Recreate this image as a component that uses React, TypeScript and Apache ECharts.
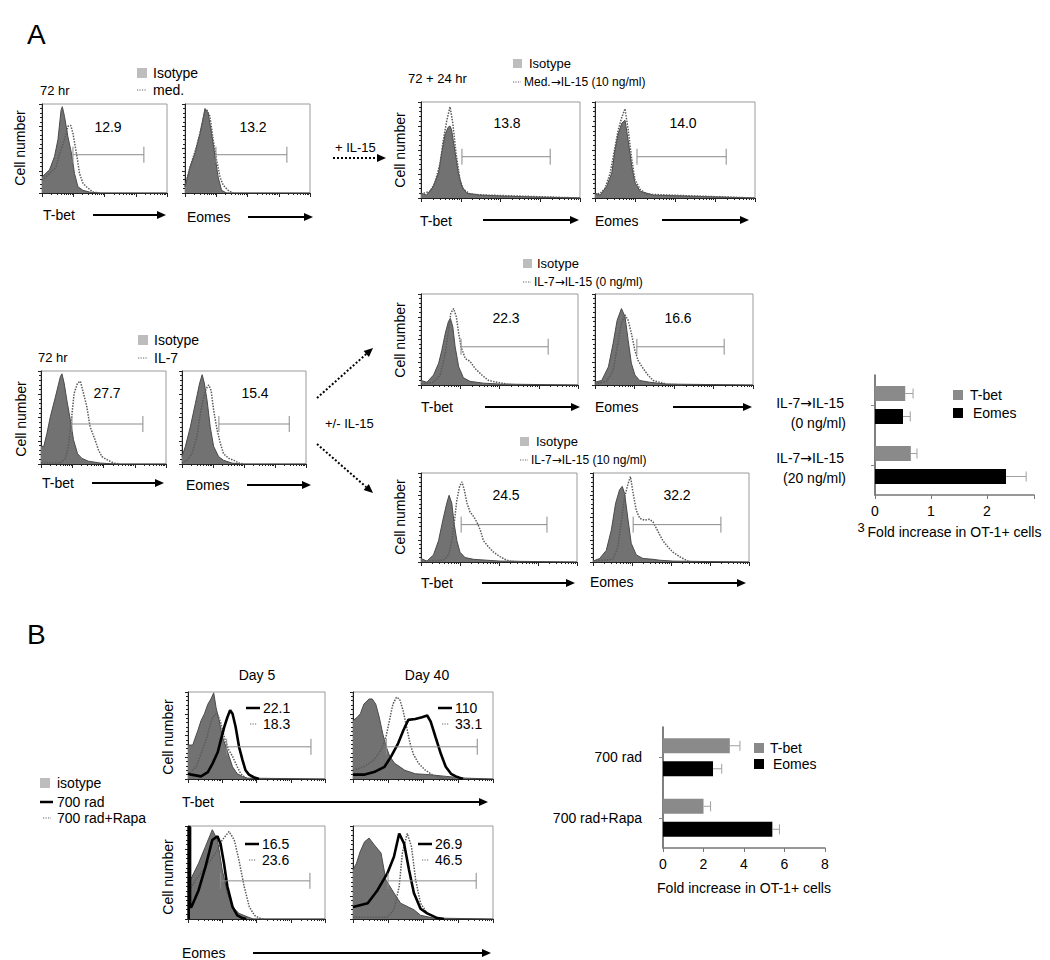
import React, { useEffect, useRef } from 'react';
import * as echarts from 'echarts';

const FONT = '"Liberation Sans", Arial, Helvetica, sans-serif';
const ARROW_FONT = '"DejaVu Sans", sans-serif';

// ---------- flow histograms: x = log decade of fluorescence (0–4), y = % of max cell count ----------
// A, 72 hr, medium
const a72TbetIso = [[0,18],[0.24,26],[0.40,41],[0.51,60],[0.61,93],[0.65,97],[0.72,86],[0.83,63],[0.94,45],[1.04,22],[1.15,7],[1.31,3],[1.53,1],[1.85,0],[4,0]];
const a72TbetMed = [[0,14],[0.24,22],[0.45,29],[0.56,44],[0.72,60],[0.83,75],[0.92,76],[0.99,67],[1.12,41],[1.20,22],[1.31,11],[1.42,7],[1.53,4],[1.63,1],[1.85,0]];
const a72EomesIso = [[0,7],[0.16,29],[0.32,45],[0.48,67],[0.59,86],[0.64,95],[0.74,90],[0.85,67],[0.96,41],[1.06,18],[1.17,3],[1.33,0],[4,0]];
const a72EomesMed = [[0,7],[0.16,29],[0.37,52],[0.53,75],[0.64,92],[0.69,94],[0.80,86],[0.90,60],[1.01,37],[1.12,18],[1.22,9],[1.38,3],[1.54,0]];
// A, 72 + 24 hr, Med. -> IL-15 (10 ng/ml)
const a96TbetIso = [[0,5],[0.14,3],[0.31,12],[0.44,26],[0.52,47],[0.61,67],[0.69,74],[0.73,75],[0.77,71],[0.86,47],[0.94,26],[1.03,12],[1.15,5],[1.49,3],[2.08,2],[2.92,1],[4,0]];
const a96TbetIL15 = [[0,4],[0.23,7],[0.35,16],[0.48,36],[0.56,60],[0.65,81],[0.73,95],[0.80,78],[0.88,47],[0.98,19],[1.07,9],[1.24,4],[1.66,3],[2.5,2],[4,0]];
const a96EomesIso = [[0,5],[0.13,3],[0.29,12],[0.42,26],[0.5,50],[0.58,67],[0.67,78],[0.75,81],[0.83,60],[0.92,33],[1.0,16],[1.13,7],[1.46,3],[2.29,2],[4,0]];
const a96EomesIL15 = [[0,4],[0.13,5],[0.25,10],[0.38,26],[0.5,53],[0.58,71],[0.67,84],[0.75,93],[0.83,71],[0.92,40],[1.0,19],[1.13,9],[1.29,4],[1.88,3],[4,0]];
// A, 72 hr, IL-7
const b72TbetIso = [[0,19],[0.09,19],[0.19,33],[0.30,51],[0.46,72],[0.62,94],[0.67,97],[0.74,87],[0.83,68],[0.94,47],[1.04,26],[1.17,11],[1.31,6],[1.52,3],[1.89,1],[2.4,0],[4,0]];
const b72TbetIL7 = [[0,1],[0.62,1],[0.78,6],[0.88,19],[0.97,47],[1.06,76],[1.17,87],[1.26,89],[1.36,76],[1.47,61],[1.57,40],[1.73,26],[1.84,15],[1.95,8],[2.09,5],[2.21,3],[2.32,1],[2.53,0]];
const b72EomesIso = [[0,8],[0.11,19],[0.27,40],[0.43,65],[0.57,87],[0.65,96],[0.72,87],[0.81,68],[0.91,40],[1.02,19],[1.18,8],[1.34,4],[1.61,1],[1.88,0],[4,0]];
const b72EomesIL7 = [[0,1],[0.16,4],[0.32,11],[0.48,29],[0.59,54],[0.70,72],[0.78,81],[0.86,85],[0.94,79],[1.02,58],[1.13,37],[1.24,22],[1.34,11],[1.51,6],[1.67,4],[1.83,1],[1.99,0]];
// A, IL-7 -> IL-15 (0 ng/ml)
const c0TbetIso = [[0,5],[0.15,3],[0.32,11],[0.45,24],[0.53,38],[0.62,57],[0.70,70],[0.75,73],[0.81,64],[0.87,42],[0.96,20],[1.08,8],[1.25,4],[1.59,2],[2.02,1],[4,0]];
const c0TbetIL15 = [[0,1],[0.32,3],[0.49,11],[0.62,35],[0.70,60],[0.76,79],[0.83,84],[0.90,75],[0.96,57],[1.02,42],[1.13,29],[1.25,26],[1.38,18],[1.55,11],[1.72,5],[1.93,3],[2.19,1],[2.44,0]];
const c0EomesIso = [[0,3],[0.17,5],[0.34,20],[0.46,46],[0.56,71],[0.67,84],[0.76,75],[0.84,49],[0.92,24],[1.01,11],[1.13,5],[1.39,3],[1.81,1],[4,0]];
const c0EomesIL15 = [[0,1],[0.29,4],[0.46,16],[0.59,49],[0.67,68],[0.76,77],[0.84,71],[0.92,57],[1.01,38],[1.09,27],[1.22,18],[1.34,11],[1.47,5],[1.64,3],[1.81,1],[2.23,0]];
// A, IL-7 -> IL-15 (10 ng/ml)
const c10TbetIso = [[0,4],[0.15,1],[0.32,8],[0.45,24],[0.56,47],[0.66,66],[0.72,75],[0.79,66],[0.85,43],[0.92,24],[1.0,11],[1.13,5],[1.35,3],[1.69,2],[2.03,1],[4,0]];
const c10TbetIL15 = [[0,1],[0.58,2],[0.71,8],[0.79,24],[0.86,47],[0.92,70],[0.99,85],[1.05,90],[1.11,81],[1.18,66],[1.26,56],[1.35,51],[1.43,45],[1.52,36],[1.60,24],[1.73,17],[1.86,11],[2.03,6],[2.15,3],[2.28,1],[2.54,0]];
const c10EomesIso = [[0,1],[0.17,4],[0.34,13],[0.47,36],[0.58,66],[0.68,81],[0.75,85],[0.81,77],[0.90,47],[0.98,21],[1.11,8],[1.28,4],[1.54,3],[1.71,2],[2.05,1],[4,0]];
const c10EomesIL15 = [[0,1],[0.51,3],[0.64,17],[0.73,47],[0.81,73],[0.90,88],[0.96,96],[1.03,77],[1.11,58],[1.20,49],[1.33,47],[1.45,48],[1.54,45],[1.67,34],[1.79,24],[1.92,17],[2.05,11],[2.22,6],[2.35,3],[2.44,1],[2.56,0]];
// B, T-bet
const d5TbetIso = [[0,39],[0.14,39],[0.19,45],[0.29,56],[0.38,67],[0.48,75],[0.58,86],[0.67,92],[0.75,99],[0.82,82],[0.91,67],[1.01,48],[1.11,37],[1.20,26],[1.30,14],[1.44,6],[1.59,3],[1.73,1],[4,0]];
const d5TbetRapa = [[0,5],[0.24,14],[0.38,29],[0.53,45],[0.63,60],[0.72,71],[0.82,75],[0.88,73],[0.96,64],[1.06,48],[1.17,35],[1.30,26],[1.44,14],[1.54,6],[1.63,3],[1.73,0]];
const d5Tbet700 = [[0,6],[0.10,5],[0.38,3],[0.58,8],[0.72,18],[0.87,31],[0.96,45],[1.06,60],[1.15,71],[1.23,79],[1.30,75],[1.39,60],[1.49,37],[1.59,22],[1.68,10],[1.78,5],[1.92,2],[2.07,0]];
const d40TbetIso = [[0,67],[0.12,71],[0.21,75],[0.31,86],[0.46,92],[0.55,92],[0.65,86],[0.75,71],[0.85,52],[0.95,37],[1.05,26],[1.19,18],[1.34,14],[1.48,10],[1.78,6],[2.17,5],[2.66,3],[3.22,1],[4,0]];
const d40TbetRapa = [[0,10],[0.31,14],[0.60,22],[0.80,33],[0.94,48],[1.04,67],[1.14,86],[1.24,94],[1.33,92],[1.43,79],[1.53,60],[1.63,41],[1.72,29],[1.87,18],[2.07,10],[2.26,5],[2.46,2],[2.65,0]];
const d40Tbet700 = [[0,5],[0.31,5],[0.60,8],[0.90,14],[1.09,26],[1.29,41],[1.44,56],[1.58,68],[1.78,69],[1.97,71],[2.12,73],[2.22,66],[2.36,48],[2.51,29],[2.65,14],[2.80,6],[2.94,3],[3.14,0]];
// B, Eomes
const d5EomesIso = [[0,42],[0.07,42],[0.31,60],[0.51,78],[0.71,96],[0.86,85],[1.0,53],[1.15,28],[1.30,13],[1.49,6],[1.69,3],[1.9,0],[4,0]];
const d5EomesRapa = [[0,28],[0.22,42],[0.51,56],[0.81,71],[1.0,85],[1.2,94],[1.35,85],[1.49,63],[1.64,35],[1.79,13],[1.94,4],[2.08,1],[2.2,0]];
const d5Eomes700 = [[0.02,0],[0.02,99],[0.06,99],[0.06,13],[0.1,13],[0.31,31],[0.51,56],[0.71,85],[0.86,89],[0.95,81],[1.05,60],[1.15,35],[1.30,13],[1.44,4],[1.59,1],[1.7,0]];
const d40EomesIso = [[0,53],[0.1,60],[0.2,72],[0.33,83],[0.46,87],[0.6,80],[0.8,71],[0.94,42],[1.17,28],[1.36,17],[1.74,10],[1.93,4],[2.3,1],[4,0]];
const d40EomesRapa = [[0,2],[0.98,2],[1.17,10],[1.32,35],[1.41,71],[1.55,92],[1.67,78],[1.79,42],[1.93,17],[2.12,6],[2.41,1],[2.6,0]];
const d40Eomes700 = [[0,13],[0.42,17],[0.70,31],[0.98,49],[1.17,67],[1.32,92],[1.46,81],[1.60,53],[1.74,28],[1.93,11],[2.12,6],[2.41,1],[2.6,0]];

// gates: [start decade, end decade, height %]
const gates = [
  [0.99, 3.26, 43], [0.99, 3.26, 43], [1.03, 3.25, 43], [1.05, 3.28, 43],
  [0.99, 3.26, 43], [1.19, 3.46, 43], [1.02, 3.24, 42], [1.06, 3.27, 42],
  [1.03, 3.23, 42], [1.03, 3.28, 42],
  [1.13, 3.59, 37], [0.95, 3.55, 37], [0.95, 3.56, 41], [1.0, 3.52, 41],
];
const gatePercents = ['12.9', '13.2', '13.8', '14.0', '27.7', '15.4', '22.3', '16.6', '24.5', '32.2'];
const bSolidPercents = ['22.1', '110', '16.5', '26.9'];
const bDottedPercents = ['18.3', '33.1', '23.6', '46.5'];

// bar charts
const barACategories = ['IL-7→IL-15\n(0 ng/ml)', 'IL-7→IL-15\n(20 ng/ml)'];
const barATbet = [0.54, 0.64];
const barATbetErr = [0.68, 0.75];
const barAEomes = [0.50, 2.34];
const barAEomesErr = [0.63, 2.70];
const barATicks = [0, 1, 2];

const barBCategories = ['700 rad', '700 rad+Rapa'];
const barBTbet = [3.3, 2.0];
const barBTbetErr = [3.8, 2.35];
const barBEomes = [2.47, 5.4];
const barBEomesErr = [2.9, 5.75];

// log sub-decade tick offsets (log10 of 2..9)
const LOG_SUB = [0.301, 0.477, 0.602, 0.699, 0.778, 0.845, 0.903, 0.954];

const HIST = [
  { box: [42, 104, 125, 89], iso: a72TbetIso, dot: a72TbetMed, solid: null },
  { box: [185, 104, 125, 89], iso: a72EomesIso, dot: a72EomesMed, solid: null },
  { box: [421, 102, 159, 96], iso: a96TbetIso, dot: a96TbetIL15, solid: null },
  { box: [595, 102, 160, 96], iso: a96EomesIso, dot: a96EomesIL15, solid: null },
  { box: [41, 371, 125, 93], iso: b72TbetIso, dot: b72TbetIL7, solid: null },
  { box: [182, 371, 124, 93], iso: b72EomesIso, dot: b72EomesIL7, solid: null },
  { box: [421, 294, 157, 91], iso: c0TbetIso, dot: c0TbetIL15, solid: null },
  { box: [595, 294, 158, 91], iso: c0EomesIso, dot: c0EomesIL15, solid: null },
  { box: [421, 473, 156, 89], iso: c10TbetIso, dot: c10TbetIL15, solid: null },
  { box: [593, 473, 156, 89], iso: c10EomesIso, dot: c10EomesIL15, solid: null },
  { box: [188, 692, 137, 87], iso: d5TbetIso, dot: d5TbetRapa, solid: d5Tbet700 },
  { box: [353, 692, 140, 87], iso: d40TbetIso, dot: d40TbetRapa, solid: d40Tbet700 },
  { box: [188, 826, 137, 93], iso: d5EomesIso, dot: d5EomesRapa, solid: d5Eomes700 },
  { box: [353, 826, 140, 93], iso: d40EomesIso, dot: d40EomesRapa, solid: d40Eomes700 },
];

const f = (s: number) => `${s}px ${FONT}`;

// text with "→" drawn in a font whose arrow glyph is full-width
function txt(text: string, x: number, y: number, size = 13, align = 'left', rot = 0, fill = '#000') {
  const rich = text.includes('→');
  const t = rich ? text.split('→').map((s) => `{n|${s}}`).join('{a|→}') : text;
  const style: any = { text: t, font: f(size), fill, textAlign: align, textVerticalAlign: 'middle', align, verticalAlign: 'middle' };
  if (rich) {
    style.rich = {
      n: { font: f(size), fill },
      a: { font: `${size}px ${ARROW_FONT}`, fill },
    };
  }
  return { type: 'text', x, y, rotation: rot, silent: true, z: 100, style };
}
function seg(x1: number, y1: number, x2: number, y2: number, stroke = '#000', lineWidth = 1, dash?: number[]) {
  const style: any = { stroke, lineWidth };
  if (dash) style.lineDash = dash;
  return { type: 'line', silent: true, z: 100, shape: { x1, y1, x2, y2 }, style };
}
function box(x: number, y: number, w: number, h: number, fill: string) {
  return { type: 'rect', silent: true, z: 100, shape: { x, y, width: w, height: h }, style: { fill } };
}
function arrow(x1: number, y1: number, x2: number, y2: number, dashed = false) {
  const dx = x2 - x1, dy = y2 - y1, L = Math.hypot(dx, dy);
  const ux = dx / L, uy = dy / L, hl = 9, hw = 4;
  const bx = x2 - ux * hl, by = y2 - uy * hl;
  return [
    seg(x1, y1, bx, by, '#000', 2, dashed ? [2, 2] : undefined),
    {
      type: 'polygon', silent: true, z: 100,
      shape: { points: [[x2, y2], [bx - uy * hw, by + ux * hw], [bx + uy * hw, by - ux * hw]] },
      style: { fill: '#000' },
    },
  ];
}
const dots = (x1: number, x2: number, y: number) => seg(x1, y, x2, y, '#666', 1.2, [1.2, 1.3]);

function buildOption() {
  const grid: any[] = [];
  const xAxis: any[] = [];
  const yAxis: any[] = [];
  const series: any[] = [];
  const minorVals: number[] = [];
  [0, 1, 2, 3].forEach((d) => LOG_SUB.forEach((s) => minorVals.push(d + s)));

  HIST.forEach((p, i) => {
    const [l, t, w, h] = p.box;
    grid.push({ left: l, top: t, width: w, height: h, show: true, borderColor: '#9a9a9a', borderWidth: 1, backgroundColor: '#fff' });
    xAxis.push({
      gridIndex: i, type: 'value', min: 0, max: 4, interval: 1, position: 'bottom',
      axisLine: { show: true, lineStyle: { color: '#222', width: 1 } },
      axisTick: { show: true, length: 4, lineStyle: { color: '#222' } },
      axisLabel: { show: false }, splitLine: { show: false },
    });
    xAxis.push({
      gridIndex: i, type: 'value', min: 0, max: 4, position: 'bottom',
      axisLine: { show: false },
      axisTick: { show: true, length: 2, customValues: minorVals, lineStyle: { color: '#222' } },
      axisLabel: { show: false }, splitLine: { show: false },
    });
    yAxis.push({
      gridIndex: i, type: 'value', min: 0, max: 100, interval: 25,
      axisLine: { show: true, lineStyle: { color: '#222', width: 1 } },
      axisTick: { show: true, length: 3, lineStyle: { color: '#222' } },
      minorTick: { show: true, splitNumber: 5, length: 2, lineStyle: { color: '#222' } },
      axisLabel: { show: false }, splitLine: { show: false },
    });
    const xi = 2 * i;
    series.push({
      type: 'line', xAxisIndex: xi, yAxisIndex: i, data: p.iso, symbol: 'none', silent: true, z: 2,
      lineStyle: { color: '#4a4a4a', width: 1 }, areaStyle: { color: '#727272', opacity: 1 },
    });
    series.push({
      type: 'line', xAxisIndex: xi, yAxisIndex: i, data: p.dot, symbol: 'none', silent: true, z: 3,
      lineStyle: { color: '#5a5a5a', width: 1.5, type: [1.5, 1.3] },
    });
    if (p.solid) {
      series.push({
        type: 'line', xAxisIndex: xi, yAxisIndex: i, data: p.solid, symbol: 'none', silent: true, z: 4,
        lineStyle: { color: '#000', width: 2.6 },
      });
    }
    series.push({
      type: 'custom', xAxisIndex: xi, yAxisIndex: i, data: [gates[i]], silent: true, z: 5,
      encode: { x: [0, 1], y: 2 },
      renderItem: (_params: any, api: any) => {
        const a = api.coord([api.value(0), api.value(2)]);
        const b = api.coord([api.value(1), api.value(2)]);
        const st = { stroke: '#8a8a8a', lineWidth: 1 };
        return {
          type: 'group',
          children: [
            { type: 'line', shape: { x1: a[0], y1: a[1], x2: b[0], y2: b[1] }, style: st },
            { type: 'line', shape: { x1: a[0], y1: a[1] - 8, x2: a[0], y2: a[1] + 8 }, style: st },
            { type: 'line', shape: { x1: b[0], y1: b[1] - 8, x2: b[0], y2: b[1] + 8 }, style: st },
          ],
        };
      },
    });
  });

  // ---- bar charts ----
  const bars = [
    {
      box: [875, 375, 159, 120], cats: barACategories, tb: barATbet, tbe: barATbetErr, eo: barAEomes, eoe: barAEomesErr,
      max: 2.84, interval: 1, labelMargin: 29, showCatLabels: false, nameGap: 30,
    },
    {
      box: [663, 727, 162, 121], cats: barBCategories, tb: barBTbet, tbe: barBTbetErr, eo: barBEomes, eoe: barBEomesErr,
      max: 8, interval: 2, labelMargin: 21, showCatLabels: true, nameGap: 33,
    },
  ];
  bars.forEach((b, k) => {
    const gi = HIST.length + k;
    const xi = xAxis.length;
    const yi = yAxis.length;
    const [l, t, w, h] = b.box;
    grid.push({ left: l, top: t, width: w, height: h, show: false });
    xAxis.push({
      gridIndex: gi, type: 'value', min: 0, max: b.max, interval: b.interval,
      name: 'Fold increase in OT-1+ cells', nameLocation: 'middle', nameGap: b.nameGap,
      nameTextStyle: { fontSize: 14, color: '#000', fontFamily: FONT },
      axisLine: { show: true, lineStyle: { color: '#777', width: 1.5 } },
      axisTick: { show: true, length: 4, lineStyle: { color: '#777' } },
      axisLabel: {
        fontSize: 14, color: '#000', margin: 9, fontFamily: FONT,
        formatter: (v: number) => (k === 0 ? (barATicks.includes(v) ? String(v) : '') : String(v)),
      },
      splitLine: { show: false },
    });
    yAxis.push({
      gridIndex: gi, type: 'category', data: b.cats, inverse: true,
      axisLine: { show: true, lineStyle: { color: '#555', width: 1.5 } },
      axisTick: { show: true, alignWithLabel: true, length: 4, lineStyle: { color: '#888' } },
      axisLabel: {
        show: b.showCatLabels,
        fontSize: 14, color: '#000', margin: b.labelMargin, align: 'right', fontFamily: FONT,
        padding: [8, 0, 0, 0],
      },
      splitLine: { show: false },
    });
    series.push({
      type: 'bar', name: 'T-bet', xAxisIndex: xi, yAxisIndex: yi, data: b.tb, barWidth: 15, barGap: '53%',
      itemStyle: { color: '#8a8a8a' }, silent: true,
    });
    series.push({
      type: 'bar', name: 'Eomes', xAxisIndex: xi, yAxisIndex: yi, data: b.eo, barWidth: 15, barGap: '53%',
      itemStyle: { color: '#000' }, silent: true,
    });
    const errSeries = (vals: number[], errs: number[], off: number) => ({
      type: 'custom', xAxisIndex: xi, yAxisIndex: yi, silent: true, z: 6,
      data: vals.map((v, i) => [v, i, errs[i]]),
      encode: { x: 0, y: 1 },
      renderItem: (_p: any, api: any) => {
        const a = api.coord([api.value(0), api.value(1)]);
        const e = api.coord([api.value(2), api.value(1)]);
        const y = a[1] + off;
        const st = { stroke: '#a0a0a0', lineWidth: 1 };
        return {
          type: 'group',
          children: [
            { type: 'line', shape: { x1: a[0], y1: y, x2: e[0], y2: y }, style: st },
            { type: 'line', shape: { x1: e[0], y1: y - 5, x2: e[0], y2: y + 5 }, style: st },
          ],
        };
      },
    });
    series.push(errSeries(b.tb, b.tbe, -11.5));
    series.push(errSeries(b.eo, b.eoe, 11.5));
  });

  // ---- annotations ----
  const P = Math.PI / 2;
  const g: any[] = [];
  g.push(txt('A', 27, 34, 28), txt('B', 27, 634, 28));
  // row A1 left
  g.push(txt('72 hr', 40, 90), box(137, 68, 10, 10, '#bdbdbd'), txt('Isotype', 153, 73, 14), dots(137, 147, 90), txt('med.', 153, 90, 14));
  g.push(txt('Cell number', 20, 148, 14, 'center', P));
  g.push(txt(gatePercents[0], 108, 127, 14, 'center'), txt(gatePercents[1], 253, 127, 14, 'center'));
  g.push(txt('T-bet', 43, 215, 14), ...arrow(93, 215, 166, 215), txt('Eomes', 187, 217, 14), ...arrow(248, 217, 313, 217));
  g.push(txt('+ IL-15', 335, 147), ...arrow(333, 158, 386, 158, true));
  // row A1 right
  g.push(txt('72 + 24 hr', 408, 78), box(513, 59, 9, 9, '#bdbdbd'), txt('Isotype', 529, 63), dots(513, 521, 82), txt('Med.→IL-15 (10 ng/ml)', 524, 82, 12));
  g.push(txt('Cell number', 400, 150, 14, 'center', P));
  g.push(txt(gatePercents[2], 507, 123, 14, 'center'), txt(gatePercents[3], 683, 123, 14, 'center'));
  g.push(txt('T-bet', 420, 221, 14), ...arrow(483, 220, 579, 220), txt('Eomes', 595, 221, 14), ...arrow(662, 220, 749, 220));
  // row A2 left
  g.push(txt('72 hr', 38, 357), box(138, 335, 10, 10, '#bdbdbd'), txt('Isotype', 154, 340, 14), dots(138, 147, 358), txt('IL-7', 154, 358, 14));
  g.push(txt('Cell number', 21, 419, 14, 'center', P));
  g.push(txt(gatePercents[4], 107, 393, 14, 'center'), txt(gatePercents[5], 255, 393, 14, 'center'));
  g.push(txt('T-bet', 42, 483, 14), ...arrow(92, 483, 164, 483), txt('Eomes', 186, 485, 14), ...arrow(247, 485, 311, 485));
  g.push(...arrow(317, 398, 373, 348, true), txt('+/- IL-15', 325, 423), ...arrow(317, 444, 373, 493, true));
  // row A2 right
  g.push(box(523, 259, 9, 9, '#bdbdbd'), txt('Isotype', 537, 263), dots(523, 531, 282), txt('IL-7→IL-15 (0 ng/ml)', 534, 282, 12));
  g.push(txt('Cell number', 400, 340, 14, 'center', P));
  g.push(txt(gatePercents[6], 506, 318, 14, 'center'), txt(gatePercents[7], 678, 318, 14, 'center'));
  g.push(txt('T-bet', 421, 407, 14), ...arrow(485, 407, 580, 407), txt('Eomes', 595, 407, 14), ...arrow(673, 407, 752, 407));
  g.push(box(520, 437, 9, 9, '#bdbdbd'), txt('Isotype', 536, 441), dots(520, 528, 460), txt('IL-7→IL-15 (10 ng/ml)', 531, 460, 12));
  g.push(txt('Cell number', 400, 517, 14, 'center', P));
  g.push(txt(gatePercents[8], 506, 495, 14, 'center'), txt(gatePercents[9], 677, 495, 14, 'center'));
  g.push(txt('T-bet', 421, 583, 14), ...arrow(482, 583, 575, 583), txt('Eomes', 590, 582, 14), ...arrow(668, 583, 746, 583));
  // bar A category labels (two lines, right-aligned), legend and stray tick label
  barACategories.forEach((c, i) => {
    const [l1, l2] = c.split('\n');
    const y0 = 403 + i * 55;
    g.push(txt(l1, 844, y0, 14, 'right'), txt(l2, 846, y0 + 20, 14, 'right'));
  });
  g.push(box(953, 390, 10, 10, '#8a8a8a'), txt('T-bet', 970, 395, 14), box(953, 408, 10, 10, '#000'), txt('Eomes', 973, 413, 14));
  g.push(txt('3', 861, 527, 13, 'center'));
  // B
  g.push(txt('Day 5', 257, 675, 14, 'center'), txt('Day 40', 427, 675, 14, 'center'));
  g.push(txt('Cell number', 168, 737, 14, 'center', P), txt('Cell number', 168, 877, 14, 'center', P));
  const bLab = [[246, 708], [438, 708], [245, 844], [418, 844]];
  bLab.forEach(([x, y], i) => {
    g.push(seg(x, y, x + 14, y, '#000', 2.5), txt(bSolidPercents[i], x + 17, y, 14));
    g.push(dots(x + 4, x + 11, y + 16), txt(bDottedPercents[i], x + 17, y + 16, 14));
  });
  g.push(txt('T-bet', 182, 802, 14), ...arrow(240, 802, 488, 802), txt('Eomes', 182, 953, 14), ...arrow(253, 953, 491, 953));
  g.push(box(40, 778, 10, 10, '#bdbdbd'), txt('isotype', 57, 783, 14), seg(40, 802, 53, 802, '#000', 2.5), txt('700 rad', 57, 802, 14), dots(43, 51, 818), txt('700 rad+Rapa', 57, 818, 14));
  g.push(box(754, 743, 10, 10, '#8a8a8a'), txt('T-bet', 770, 748, 14), box(754, 759, 10, 10, '#000'), txt('Eomes', 773, 764, 14));

  return {
    animation: false,
    backgroundColor: '#fff',
    textStyle: { fontFamily: FONT },
    grid, xAxis, yAxis, series,
    graphic: { elements: g },
  };
}

export default function App() {
  const ref = useRef<HTMLDivElement>(null);
  useEffect(() => {
    if (!ref.current) return;
    const chart = echarts.init(ref.current, null, { renderer: 'svg' });
    chart.setOption(buildOption() as any);
    return () => chart.dispose();
  }, []);
  return <div ref={ref} style={{ position: 'absolute', left: 0, top: 0, width: 1050, height: 960, background: '#fff' }} />;
}
